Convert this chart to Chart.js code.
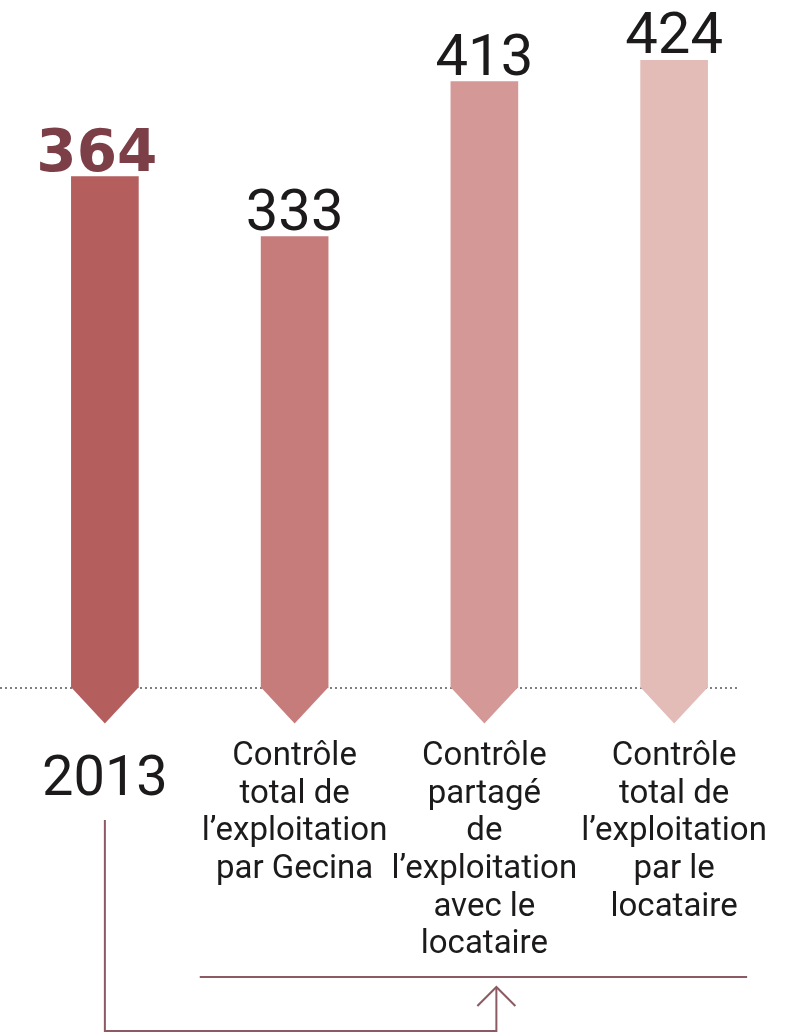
<!DOCTYPE html>
<html>
<head>
<meta charset="utf-8">
<script src="https://cdn.jsdelivr.net/npm/chart.js@4"></script>
<style>
  html, body { margin: 0; padding: 0; background: #fff; }
  #wrap { width: 792px; height: 1036px; }
</style>
</head>
<body>
<div id="wrap"><canvas id="chart" width="792" height="1036"></canvas></div>
<script>
const categories = [
  ["2013"],
  ["Contrôle", "total de", "l’exploitation", "par Gecina"],
  ["Contrôle", "partagé", "de", "l’exploitation", "avec le", "locataire"],
  ["Contrôle", "total de", "l’exploitation", "par le", "locataire"]
];
const values = [364, 333, 413, 424];
const barColors = ["#b45e5e", "#c67c7a", "#d49996", "#e3bcb8"];

// arrow tips under the bars + dotted baseline
const arrowPlugin = {
  id: "arrows",
  beforeDatasetsDraw(chart) {
    const ctx = chart.ctx;
    const area = chart.chartArea;
    const bars = chart.getDatasetMeta(0).data;
    ctx.save();
    ctx.strokeStyle = "#555";
    ctx.lineWidth = 1.5;
    ctx.setLineDash([2, 3]);
    ctx.beginPath();
    ctx.moveTo(0, area.bottom);
    ctx.lineTo(bars[3].x + bars[3].width / 2 + 32, area.bottom);
    ctx.stroke();
    ctx.restore();
  },
  afterDatasetsDraw(chart) {
    const ctx = chart.ctx;
    const base = chart.chartArea.bottom;
    const bars = chart.getDatasetMeta(0).data;
    ctx.save();
    bars.forEach((bar, i) => {
      const half = bar.width / 2;
      ctx.fillStyle = barColors[i];
      ctx.beginPath();
      ctx.moveTo(bar.x - half, base - 0.5);
      ctx.lineTo(bar.x + half, base - 0.5);
      ctx.lineTo(bar.x, base + half + 2);
      ctx.closePath();
      ctx.fill();
    });
    ctx.restore();
  }
};

// values above bars
const valuePlugin = {
  id: "values",
  afterDatasetsDraw(chart) {
    const ctx = chart.ctx;
    const bars = chart.getDatasetMeta(0).data;
    ctx.save();
    ctx.textAlign = "center";
    ctx.textBaseline = "alphabetic";
    bars.forEach((bar, i) => {
      if (i === 0) {
        ctx.font = "bold 58px 'DejaVu Sans'";
        ctx.fillStyle = "#7d3f47";
        ctx.fillText(values[i], bar.x - 8, bar.y - 6);
      } else {
        ctx.font = "58px Roboto";
        ctx.fillStyle = "#1c1a1b";
        ctx.fillText(values[i], bar.x, bar.y - 7);
      }
    });
    ctx.restore();
  }
};

// bracket connecting 2013 to the three scenarios
const bracketPlugin = {
  id: "bracket",
  afterDraw(chart) {
    const ctx = chart.ctx;
    const x = chart.scales.x;
    const x0 = x.getPixelForValue(0);
    const x1 = x.getPixelForValue(1);
    const x2 = x.getPixelForValue(2);
    const x3 = x.getPixelForValue(3);
    const ax = x2 + 12;
    ctx.save();
    ctx.strokeStyle = "#8b5a62";
    ctx.lineWidth = 2;
    ctx.beginPath();
    ctx.moveTo((x0 + x1) / 2, 977);
    ctx.lineTo(x3 + 73, 977);
    ctx.stroke();
    ctx.beginPath();
    ctx.moveTo(x0, 820);
    ctx.lineTo(x0, 1031);
    ctx.lineTo(ax, 1031);
    ctx.lineTo(ax, 987);
    ctx.stroke();
    ctx.beginPath();
    ctx.moveTo(ax - 19, 1006);
    ctx.lineTo(ax, 987);
    ctx.lineTo(ax + 19, 1006);
    ctx.stroke();
    ctx.restore();
  }
};

new Chart(document.getElementById("chart"), {
  type: "bar",
  data: {
    labels: categories,
    datasets: [{
      data: values,
      backgroundColor: barColors,
      barThickness: 67,
      borderWidth: 0
    }]
  },
  options: {
    responsive: false,
    animation: false,
    layout: { padding: { left: 10, right: 23, top: 10, bottom: 0 } },
    plugins: { legend: { display: false }, tooltip: { enabled: false } },
    scales: {
      y: { display: false, min: 100, max: 450 },
      x: {
        grid: { display: false },
        border: { display: false },
        afterFit: (scale) => {
          scale.height = 348;
          scale.paddingLeft = 0;
          scale.paddingRight = 0;
        },
        ticks: {
          autoSkip: false,
          maxRotation: 0,
          minRotation: 0,
          padding: 42,
          color: "#1c1a1b",
          font: (c) => c.index === 0
            ? { family: "Roboto", size: 56, lineHeight: 1.55 }
            : { family: "Roboto", size: 33, lineHeight: 1.14 }
        }
      }
    }
  },
  plugins: [arrowPlugin, valuePlugin, bracketPlugin]
});
</script>
</body>
</html>
